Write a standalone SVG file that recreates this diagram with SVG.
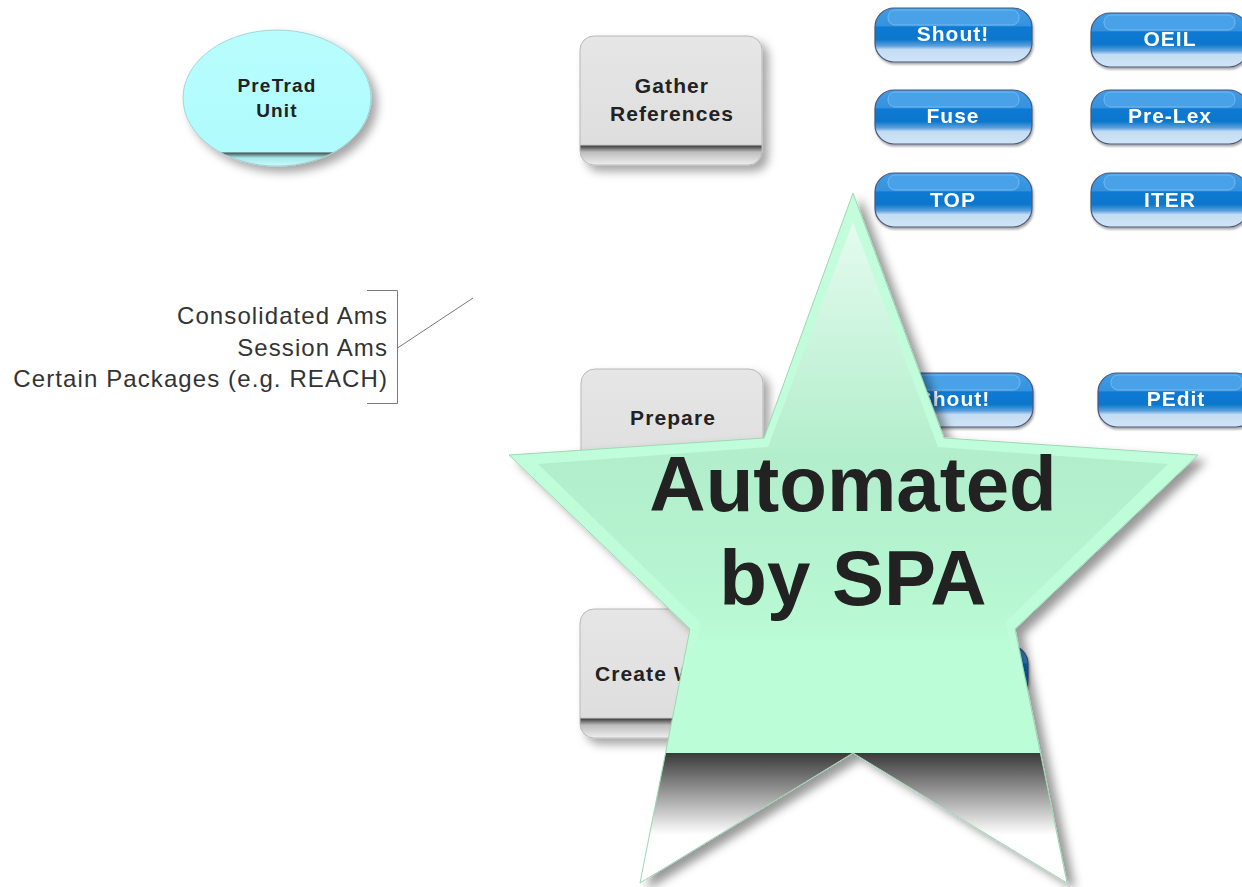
<svg xmlns="http://www.w3.org/2000/svg" width="1242" height="887" viewBox="0 0 1242 887">
<style>
.lbl{font-family:"Liberation Sans",Arial,sans-serif;font-weight:bold;fill:#222;text-anchor:middle}
.btxt{font-family:"Liberation Sans",Arial,sans-serif;font-weight:bold;font-size:21px;fill:#fff;text-anchor:middle;letter-spacing:1px}
.note{font-family:"Liberation Sans",Arial,sans-serif;font-size:24px;fill:#333;text-anchor:end;letter-spacing:1.1px}
.btn{fill:url(#gBtn);stroke:#4b5878;stroke-width:1.2}
.hl{fill:#49a2e8;stroke:#74b8ee;stroke-width:1}
.box{fill:url(#gBox);stroke:#b8b8b8;stroke-width:1}
</style>
<defs>
<linearGradient id="gBtn" x1="0" y1="0" x2="0" y2="1">
<stop offset="0" stop-color="#3f9ce6"/>
<stop offset="0.33" stop-color="#3592de"/>
<stop offset="0.35" stop-color="#0a7ad4"/>
<stop offset="0.58" stop-color="#0876cc"/>
<stop offset="0.7" stop-color="#5c9fdb"/>
<stop offset="0.77" stop-color="#c4dcf2"/>
<stop offset="1" stop-color="#d0e5f7"/>
</linearGradient>
<linearGradient id="gBox" x1="0" y1="0" x2="0" y2="1">
<stop offset="0" stop-color="#e6e6e6"/>
<stop offset="0.84" stop-color="#dedede"/>
<stop offset="0.855" stop-color="#4a4a4a"/>
<stop offset="0.9" stop-color="#bdbdbd"/>
<stop offset="1" stop-color="#efefef"/>
</linearGradient>
<linearGradient id="gEll" gradientUnits="userSpaceOnUse" x1="0" y1="30" x2="0" y2="166">
<stop offset="0" stop-color="#b8fdfe"/>
<stop offset="0.895" stop-color="#b0fbfd"/>
<stop offset="0.905" stop-color="#4a5a5a"/>
<stop offset="0.94" stop-color="#a8e8ea"/>
<stop offset="1" stop-color="#c8fcfd"/>
</linearGradient>
<linearGradient id="gStar" gradientUnits="userSpaceOnUse" x1="0" y1="193" x2="0" y2="883">
<stop offset="0" stop-color="#c4fddc"/>
<stop offset="0.811" stop-color="#bbfdd7"/>
<stop offset="0.812" stop-color="#3a3a3a"/>
<stop offset="0.93" stop-color="#ffffff"/>
<stop offset="1" stop-color="#ffffff"/>
</linearGradient>
<linearGradient id="gInner" gradientUnits="userSpaceOnUse" x1="0" y1="222" x2="0" y2="750">
<stop offset="0" stop-color="#e4fbef"/>
<stop offset="0.45" stop-color="#b2eecb"/>
<stop offset="0.7" stop-color="#b6f6d1"/>
<stop offset="0.8" stop-color="#bbfdd7"/>
<stop offset="1" stop-color="#bbfdd7"/>
</linearGradient>
<filter id="shBig" x="-10%" y="-10%" width="125%" height="125%">
<feDropShadow dx="8" dy="6" stdDeviation="5" flood-color="#000" flood-opacity="0.4"/>
</filter>
<filter id="shMid" x="-10%" y="-10%" width="125%" height="130%">
<feDropShadow dx="6" dy="6" stdDeviation="5" flood-color="#000" flood-opacity="0.35"/>
</filter>
<filter id="shSm" x="-5%" y="-10%" width="115%" height="130%">
<feDropShadow dx="1" dy="2" stdDeviation="1" flood-color="#000" flood-opacity="0.35"/>
</filter>
</defs>

<g id="pretrad" filter="url(#shMid)">
<ellipse cx="277" cy="98" rx="94" ry="68" fill="url(#gEll)" stroke="#9cc" stroke-width="0.8"/>
</g>
<g id="pretrad-label">
<text class="lbl" x="277" y="92" font-size="19" letter-spacing="1.2">PreTrad</text>
<text class="lbl" x="277" y="117" font-size="19" letter-spacing="1.2">Unit</text>
</g>

<g id="gather">
<rect class="box" x="580" y="36" width="182" height="129" rx="14" filter="url(#shMid)"/>
<text class="lbl" x="672" y="93" font-size="21" letter-spacing="1.1">Gather</text>
<text class="lbl" x="672" y="121" font-size="21" letter-spacing="1.1">References</text>
</g>

<g id="prepare">
<rect class="box" x="581" y="369" width="182" height="129" rx="14" filter="url(#shMid)"/>
<text class="lbl" x="673" y="425" font-size="21" letter-spacing="1.1">Prepare</text>
</g>

<g id="create">
<rect class="box" x="580" y="609" width="182" height="129" rx="14" filter="url(#shMid)"/>
<text class="lbl" x="595" y="681" font-size="21" letter-spacing="1.1" style="text-anchor:start">Create W</text>
</g>

<g id="btn-shout1" filter="url(#shSm)">
<rect class="btn" x="875" y="8" width="157" height="54" rx="19"/>
<rect class="hl" x="888" y="10" width="131" height="15" rx="7"/>
<text class="btxt" x="953" y="41">Shout!</text>
</g>
<g id="btn-oeil" filter="url(#shSm)">
<rect class="btn" x="1091" y="13" width="157" height="54" rx="19"/>
<rect class="hl" x="1104" y="15" width="131" height="15" rx="7"/>
<text class="btxt" x="1170" y="46">OEIL</text>
</g>
<g id="btn-fuse" filter="url(#shSm)">
<rect class="btn" x="875" y="90" width="157" height="54" rx="19"/>
<rect class="hl" x="888" y="92" width="131" height="15" rx="7"/>
<text class="btxt" x="953" y="123">Fuse</text>
</g>
<g id="btn-prelex" filter="url(#shSm)">
<rect class="btn" x="1091" y="90" width="157" height="54" rx="19"/>
<rect class="hl" x="1104" y="92" width="131" height="15" rx="7"/>
<text class="btxt" x="1170" y="123">Pre-Lex</text>
</g>
<g id="btn-top" filter="url(#shSm)">
<rect class="btn" x="875" y="173" width="157" height="54" rx="19"/>
<rect class="hl" x="888" y="175" width="131" height="15" rx="7"/>
<text class="btxt" x="953" y="207">TOP</text>
</g>
<g id="btn-iter" filter="url(#shSm)">
<rect class="btn" x="1091" y="173" width="157" height="54" rx="19"/>
<rect class="hl" x="1104" y="175" width="131" height="15" rx="7"/>
<text class="btxt" x="1170" y="207">ITER</text>
</g>
<g id="btn-shout2" filter="url(#shSm)">
<rect class="btn" x="876" y="373" width="157" height="54" rx="19"/>
<rect class="hl" x="889" y="375" width="131" height="15" rx="7"/>
<text class="btxt" x="954" y="406">Shout!</text>
</g>
<g id="btn-pedit" filter="url(#shSm)">
<rect class="btn" x="1098" y="373" width="157" height="54" rx="19"/>
<rect class="hl" x="1111" y="375" width="131" height="15" rx="7"/>
<text class="btxt" x="1176" y="406">PEdit</text>
</g>
<g id="btn-hidden" filter="url(#shSm)">
<rect class="btn" x="871" y="645" width="157" height="54" rx="19"/>
<rect class="hl" x="884" y="647" width="131" height="15" rx="7"/>
</g>

<g id="connectors" fill="none" stroke="#7a7a7a" stroke-width="1">
<path d="M367 290.5H397.5V403.5H367"/>
<path d="M397.5 348L473 298"/>
</g>

<g id="note">
<text class="note" x="388" y="324">Consolidated Ams</text>
<text class="note" x="388" y="356">Session Ams</text>
<text class="note" x="388" y="387">Certain Packages (e.g. REACH)</text>
</g>

<g id="star">
<polygon filter="url(#shBig)" points="853,193 944,438 1198,455 1015,629 1067,883 853,753 640,883 690,629 509,455 764,438" fill="url(#gStar)" stroke="#9cd8b4" stroke-width="1"/>
<polygon points="853,222 938,447 1168,464 1006,622 1030,750 676,750 700,622 538,464 768,447" fill="url(#gInner)"/>
<text class="lbl" x="853" y="511" font-size="78">Automated</text>
<text class="lbl" x="853" y="605" font-size="78">by SPA</text>
</g>
</svg>
